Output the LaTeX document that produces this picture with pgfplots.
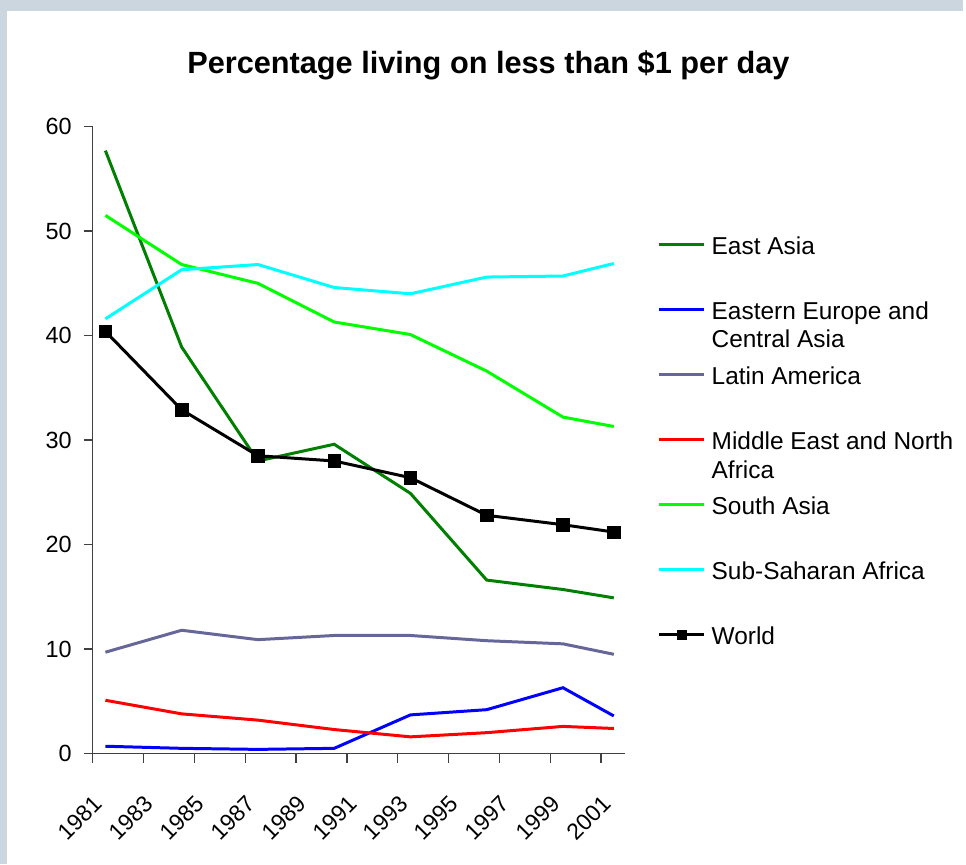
\documentclass[border=0pt]{standalone}
\usepackage{pgfplots}
\pgfplotsset{compat=1.18}
\usepackage{fontspec}
\setmainfont{Liberation Sans}
\definecolor{bgc}{RGB}{204,214,222}
\definecolor{eastasia}{RGB}{0,128,0}
\definecolor{eeca}{RGB}{0,0,255}
\definecolor{latam}{RGB}{102,102,153}
\definecolor{mena}{RGB}{255,0,0}
\definecolor{sasia}{RGB}{0,255,0}
\definecolor{ssa}{RGB}{0,255,255}
\newcommand\LE[1]{\smash{\parbox[t]{9cm}{\raggedright #1}}\rule[-3.4bp]{0pt}{25.4bp}}
\begin{document}
\begin{tikzpicture}
\fill[bgc] (0bp,0bp) rectangle (966bp,867bp);
\fill[white] (7.5bp,0bp) rectangle (966bp,856bp);
\node[font=\fontsize{30.8bp}{36bp}\selectfont\bfseries, anchor=base] at (490bp,793bp) {Percentage living on less than \$1 per day};
\begin{axis}[
  at={(93bp,111bp)}, anchor=south west,
  scale only axis, width=534bp, height=629bp,
  xmin=1980.5, xmax=2001.44, ymin=0, ymax=60,
  axis x line*=bottom, axis y line*=left,
  axis line style={black!75, line width=1.3bp},
  tick style={black!75, line width=1.3bp},
  tick align=outside, major tick length=9bp,
  xtick={1980.5,1982.5,1984.5,1986.5,1988.5,1990.5,1992.5,1994.5,1996.5,1998.5,2000.5},
  xticklabels={1981,1983,1985,1987,1989,1991,1993,1995,1997,1999,2001},
  ytick={0,10,20,30,40,50,60},
  /pgf/number format/assume math mode=true,
  y tick label style={font=\fontsize{23.5bp}{27bp}\selectfont, anchor=east, inner sep=0pt, xshift=-12bp},
  x tick label style={font=\fontsize{23bp}{27bp}\selectfont, yshift=-31bp, rotate=45, anchor=north east, inner sep=0pt},
  legend cell align=left,
  legend style={draw=none, fill=none, at={(axis description cs:1.0618,0.8310)}, anchor=north west,
    inner sep=0pt, outer sep=0pt, row sep=41.8bp, column sep=6bp,
    font=\fontsize{24.5bp}{28.5bp}\selectfont, nodes={inner sep=0pt}},
  legend image code/.code={\draw[mark repeat=2,mark phase=2,#1] plot coordinates {(0bp,0bp) (22.5bp,0bp) (45bp,0bp)};},
  every axis plot/.append style={line width=3bp},
]
\addplot[eastasia, no markers] coordinates {(1981,57.7) (1984,38.9) (1987,28.0) (1990,29.6) (1993,24.9) (1996,16.6) (1999,15.7) (2001,14.9)};
\addlegendentry{\LE{East Asia}}
\addplot[eeca, no markers] coordinates {(1981,0.7) (1984,0.5) (1987,0.4) (1990,0.5) (1993,3.7) (1996,4.2) (1999,6.3) (2001,3.6)};
\addlegendentry{\LE{Eastern Europe and\newline Central Asia}}
\addplot[latam, no markers] coordinates {(1981,9.7) (1984,11.8) (1987,10.9) (1990,11.3) (1993,11.3) (1996,10.8) (1999,10.5) (2001,9.5)};
\addlegendentry{\LE{Latin America}}
\addplot[mena, no markers] coordinates {(1981,5.1) (1984,3.8) (1987,3.2) (1990,2.3) (1993,1.6) (1996,2.0) (1999,2.6) (2001,2.4)};
\addlegendentry{\LE{Middle East and North\newline Africa}}
\addplot[sasia, no markers] coordinates {(1981,51.5) (1984,46.8) (1987,45.0) (1990,41.3) (1993,40.1) (1996,36.6) (1999,32.2) (2001,31.3)};
\addlegendentry{\LE{South Asia}}
\addplot[ssa, no markers] coordinates {(1981,41.6) (1984,46.3) (1987,46.8) (1990,44.6) (1993,44.0) (1996,45.6) (1999,45.7) (2001,46.9)};
\addlegendentry{\LE{Sub-Saharan Africa}}
\addplot[black, mark=square*, mark size=6.2bp, mark options={solid, fill=black, line width=0.6bp}, legend image post style={mark size=4.8bp}] coordinates {(1981,40.4) (1984,32.9) (1987,28.5) (1990,28.0) (1993,26.4) (1996,22.8) (1999,21.9) (2001,21.2)};
\addlegendentry{\LE{World}}
\end{axis}
\end{tikzpicture}
\end{document}
